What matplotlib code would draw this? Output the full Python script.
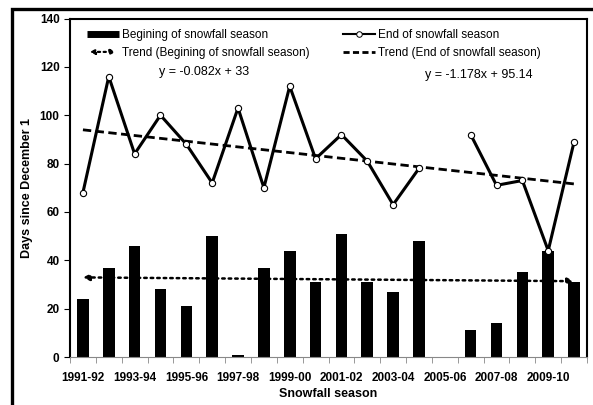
#!/usr/bin/env python3
"""Snowfall season start/end days since December 1, with linear trends."""

import matplotlib
matplotlib.use("Agg")
import matplotlib.pyplot as plt
import numpy as np
from matplotlib.legend_handler import HandlerBase, HandlerLine2D
from matplotlib.lines import Line2D
from matplotlib.patches import FancyArrowPatch, Rectangle

plt.rcParams["font.family"] = ["Liberation Sans", "DejaVu Sans"]

seasons = [
    "1991-92", "1992-93", "1993-94", "1994-95", "1995-96", "1996-97", "1997-98",
    "1998-99", "1999-00", "2000-01", "2001-02", "2002-03", "2003-04", "2004-05",
    "2005-06", "2006-07", "2007-08", "2008-09", "2009-10", "2010-11",
]
begin_days = [24, 37, 46, 28, 21, 50, 1, 37, 44, 31, 51, 31, 27, 48,
              0, 11, 14, 35, 44, 31]
end_days = [68, 116, 84, 100, 88, 72, 103, 70, 112, 82, 92, 81, 63, 78,
            np.nan, 92, 71, 73, 44, 89]

# trend equations as given in the chart (x = season number starting at 1)
begin_slope, begin_icpt = -0.082, 33
end_slope, end_icpt = -1.178, 95.14


class DoubleArrowHandler(HandlerBase):
    def create_artists(self, legend, orig_handle, xdescent, ydescent,
                       width, height, fontsize, trans):
        y = height / 2 - ydescent
        arr = FancyArrowPatch((-xdescent, y), (width - xdescent, y),
                              arrowstyle="<|-|>", mutation_scale=7,
                              linestyle=(0, (1, 1.6)), lw=1.6, color="black",
                              transform=trans)
        return [arr]


def main() -> None:
    fig = plt.figure(figsize=(5.93, 4.05), dpi=100)
    ax = fig.add_axes([70 / 593, 1 - 357 / 405, 517 / 593, 338.5 / 405])

    x = np.arange(len(seasons))
    num = x + 1

    ax.bar(x, begin_days, width=0.45, color="black", zorder=2)
    ax.plot(x, end_days, color="black", lw=2.2, marker="o", ms=4.5,
            mfc="white", mec="black", mew=0.8, zorder=4)

    begin_trend = begin_slope * num + begin_icpt
    end_trend = end_slope * num + end_icpt
    ax.plot(x, end_trend, color="black", lw=2, dashes=(3, 1.6), zorder=3)
    ax.annotate("", xy=(x[-1], begin_trend[-1]), xytext=(x[0], begin_trend[0]),
                arrowprops=dict(arrowstyle="<|-|>", mutation_scale=9,
                                linestyle=(0, (1, 1.6)), lw=1.8,
                                color="black", shrinkA=0, shrinkB=0),
                zorder=3)

    ax.text(4.7, 117.8, "y = -0.082x + 33", ha="center", va="center", fontsize=9)
    ax.text(15.3, 116.5, "y = -1.178x + 95.14", ha="center", va="center", fontsize=9)

    h_begin = Line2D([], [], color="black", lw=5, solid_capstyle="butt")
    h_end = Line2D([], [], color="black", lw=1.5, marker="o", ms=4,
                   mfc="white", mec="black", mew=0.7)
    h_btrend = Line2D([], [], color="black")
    h_etrend = Line2D([], [], color="black", lw=2, dashes=(2.2, 1.2))
    ax.legend([h_begin, h_btrend, h_end, h_etrend],
              ["Begining of snowfall season", "Trend (Begining of snowfall season)",
               "End of snowfall season", "Trend (End of snowfall season)"],
              ncol=2, loc="upper left", bbox_to_anchor=(0.012, 1.0),
              frameon=False, fontsize=8.5, handlelength=2.7, handletextpad=0.3,
              columnspacing=2.8, labelspacing=0.5,
              handler_map={h_btrend: DoubleArrowHandler(),
                           h_end: HandlerLine2D(numpoints=1)})

    ax.set_xlim(-0.5, len(seasons) - 0.5)
    ax.set_ylim(0, 140)
    ax.set_yticks(range(0, 141, 20))
    ax.set_xticks(x[::2])
    ax.set_xticklabels(seasons[::2])
    ax.set_xticks(np.arange(-0.5, len(seasons), 1), minor=True)
    ax.tick_params(axis="x", which="major", length=0, pad=11)
    ax.tick_params(axis="x", which="minor", length=4, width=0.6, color="#888888")
    ax.tick_params(axis="y", length=4, width=0.8)
    for lab in ax.get_xticklabels() + ax.get_yticklabels():
        lab.set_fontweight("bold")
        lab.set_fontsize(8.5)

    for sp in ax.spines.values():
        sp.set_linewidth(1.5)
    ax.spines["bottom"].set_linewidth(0.8)
    ax.spines["bottom"].set_color("#888888")

    ax.set_ylabel("Days since December 1", fontweight="bold", fontsize=9, labelpad=5)
    ax.set_xlabel("Snowfall season", fontweight="bold", fontsize=9, labelpad=3)

    # outer frame that runs off the right/bottom edges
    fig.patches.append(Rectangle((12 / 593, -0.05), 1.0, 1 - 9 / 405 + 0.05,
                                 transform=fig.transFigure, fill=False,
                                 lw=2.4, edgecolor="black"))

    fig.savefig("out.png", dpi=100)
    plt.close(fig)


if __name__ == "__main__":
    main()
